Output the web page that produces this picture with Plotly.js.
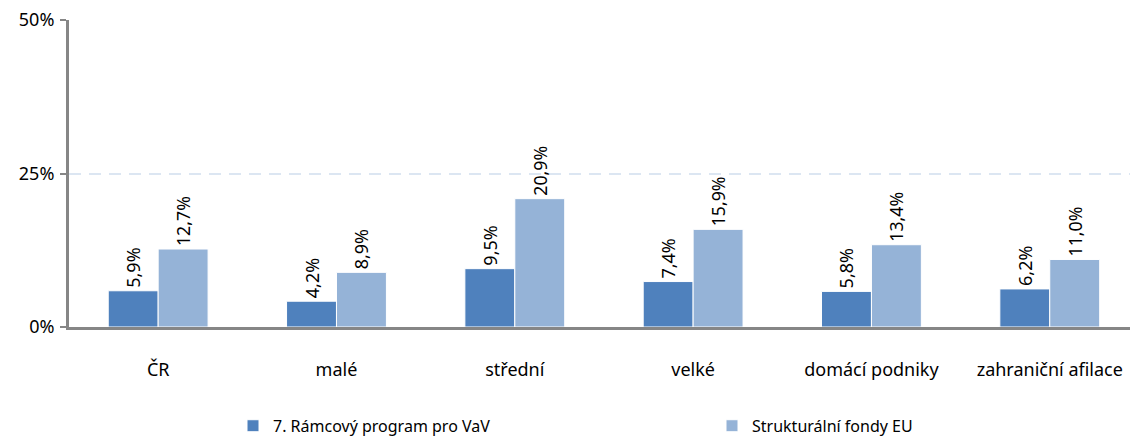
<!DOCTYPE html>
<html><head><meta charset="utf-8">
<script src="https://cdn.plot.ly/plotly-3.0.1.min.js"></script>
<style>body{margin:0}#c{width:1130px;height:439px}</style>
</head><body><div id="c"></div>
<script>
const categories = ["ČR","malé","střední","velké","domácí podniky","zahraniční afilace"];
const seriesNames = ["7. Rámcový program pro VaV","Strukturální fondy EU"];
const fp7 = [5.9,4.2,9.5,7.4,5.8,6.2];
const sf = [12.7,8.9,20.9,15.9,13.4,11.0];
const yTicks = [0,25,50];
const yTickLabels = ["0%","25%","50%"];

const fmt = v => v.toFixed(1).replace('.', ',') + '%';
const font = "Noto Sans, sans-serif";
function tr(name, vals, color, lg){
  return {type:'bar', name:name, x:categories, y:vals, text:vals.map(fmt), legend:lg,
    textposition:'outside', textangle:-90, cliponaxis:false,
    textfont:{family:font,size:18,color:'#000'},
    marker:{color:color, line:{color:'#ffffff', width:1}}, hoverinfo:'none'};
}
const data = [tr(seriesNames[0], fp7, '#4F81BD', 'legend'), tr(seriesNames[1], sf, '#95B3D7', 'legend2')];
const lg = (x) => ({orientation:'h', xref:'container', yref:'container', x:x, xanchor:'left', y:0.03, yanchor:'middle',
    itemwidth:30, bgcolor:'rgba(0,0,0,0)', font:{family:font,size:16,color:'#000'}});
const layout = {
  width:1130, height:439,
  margin:{l:69, r:0, t:20, b:112},
  paper_bgcolor:'#fff', plot_bgcolor:'#fff',
  barmode:'group', bargap:0.44, bargroupgap:0,
  font:{family:font, size:15, color:'#000'},
  xaxis:{type:'category', range:[-0.5,5.45], showline:true, linecolor:'#868686', linewidth:3, automargin:false,
    ticks:'', showgrid:false, ticklabelstandoff:24, tickfont:{family:font,size:18,color:'#000'}},
  yaxis:{range:[0,50], tickvals:yTicks, ticktext:yTickLabels, showline:true, linecolor:'#868686', linewidth:3, automargin:false,
    ticks:'outside', ticklen:6, tickcolor:'#868686', tickwidth:2,
    showgrid:true, gridcolor:'#DCE6F2', griddash:'12px,8px', gridwidth:2, zeroline:false,
    tickfont:{family:font,size:18,color:'#000'}, ticklabelstandoff:2},
  legend:lg(233/1130),
  legend2:lg(712/1130),
  showlegend:true
};
Plotly.newPlot('c', data, layout, {staticPlot:true});
</script></body></html>
